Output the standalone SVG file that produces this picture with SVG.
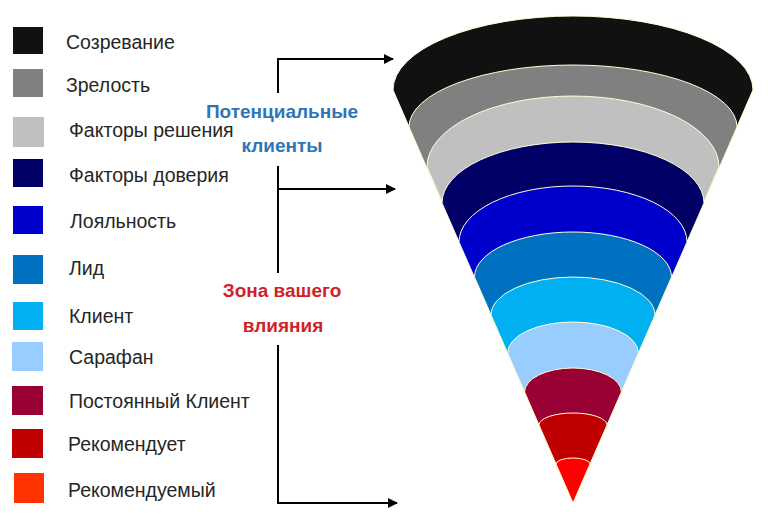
<svg xmlns="http://www.w3.org/2000/svg" width="768" height="529" viewBox="0 0 768 529">
<style>
.lg{font-family:"Liberation Sans",Arial,sans-serif;font-size:19.5px;fill:#262626}
.hd{font-family:"Liberation Sans",Arial,sans-serif;font-size:19px;font-weight:bold;text-anchor:middle}
.band{stroke:#FFFFD8;stroke-width:1}
.con{fill:none;stroke:#000;stroke-width:2}
</style>
<defs>
<marker id="ar" viewBox="0 0 10 10" refX="9" refY="5" markerWidth="5" markerHeight="5" orient="auto" markerUnits="strokeWidth">
<path d="M0,0 L10,5 L0,10 Z" fill="#000"/>
</marker>
</defs>
<rect width="768" height="529" fill="#fff"/>
<g id="legend">
<g id="l1"><rect x="13" y="27" width="30" height="27" fill="#111111"/><text class="lg" x="66" y="49">Созревание</text></g>
<g id="l2"><rect x="13" y="69" width="30" height="28" fill="#808080"/><text class="lg" x="66" y="92">Зрелость</text></g>
<g id="l3"><rect x="13" y="117" width="31" height="30" fill="#C0C0C0"/><text class="lg" x="69" y="137">Факторы решения</text></g>
<g id="l4"><rect x="13" y="159" width="30" height="28" fill="#000066"/><text class="lg" x="69" y="182">Факторы доверия</text></g>
<g id="l5"><rect x="13" y="206" width="30" height="28" fill="#0000CC"/><text class="lg" x="70" y="228">Лояльность</text></g>
<g id="l6"><rect x="13" y="255" width="30" height="29" fill="#0070C0"/><text class="lg" x="69" y="275">Лид</text></g>
<g id="l7"><rect x="13" y="302" width="30" height="28" fill="#00B0F0"/><text class="lg" x="69" y="323">Клиент</text></g>
<g id="l8"><rect x="12" y="342" width="31" height="29" fill="#99CCFF"/><text class="lg" x="69" y="364">Сарафан</text></g>
<g id="l9"><rect x="12" y="386" width="31" height="29" fill="#990033"/><text class="lg" x="69" y="408">Постоянный Клиент</text></g>
<g id="l10"><rect x="12" y="429" width="31" height="29" fill="#C00000"/><text class="lg" x="68" y="451">Рекомендует</text></g>
<g id="l11"><rect x="14" y="473" width="30" height="30" fill="#FF3300"/><text class="lg" x="68" y="497">Рекомендуемый</text></g>
</g>
<g id="funnel">
<path class="band" fill="#111111" d="M393,90 A180,74 0 0 1 753,90 L573,503 Z"/>
<path class="band" fill="#808080" d="M409,127 A164,62 0 0 1 737,127 L573,503 Z"/>
<path class="band" fill="#C0C0C0" d="M427,167 A146,71 0 0 1 719,167 L573,503 Z"/>
<path class="band" fill="#000066" d="M442,203 A131,61 0 0 1 704,203 L573,503 Z"/>
<path class="band" fill="#0000CC" d="M459,242 A114,56 0 0 1 687,242 L573,503 Z"/>
<path class="band" fill="#0070C0" d="M474.5,277 A98.5,45 0 0 1 671.5,277 L573,503 Z"/>
<path class="band" fill="#00B0F0" d="M491,315 A82,38 0 0 1 655,315 L573,503 Z"/>
<path class="band" fill="#99CCFF" d="M507.6,353 A65.4,31 0 0 1 638.4,353 L573,503 Z"/>
<path class="band" fill="#990033" d="M524.6,392 A48.4,24 0 0 1 621.4,392 L573,503 Z"/>
<path class="band" fill="#C00000" d="M539,425 A34,12 0 0 1 607,425 L573,503 Z"/>
<path class="band" fill="#FF0000" d="M556,464 A17,6 0 0 1 590,464 L573,503 Z"/>
</g>
<g id="connectors">
<path class="con" d="M278,93 V59 H393" marker-end="url(#ar)"/>
<path class="con" d="M278,166 V273"/>
<path class="con" d="M278,189 H395" marker-end="url(#ar)"/>
<path class="con" d="M278,345 V503 H397" marker-end="url(#ar)"/>
</g>
<g id="label-potential">
<text class="hd" x="282" y="118" fill="#2E75B6">Потенциальные</text>
<text class="hd" x="282" y="152" fill="#2E75B6">клиенты</text>
</g>
<g id="label-zone">
<text class="hd" x="282" y="297" fill="#D01F2A">Зона вашего</text>
<text class="hd" x="283" y="332" fill="#D01F2A">влияния</text>
</g>
</svg>
